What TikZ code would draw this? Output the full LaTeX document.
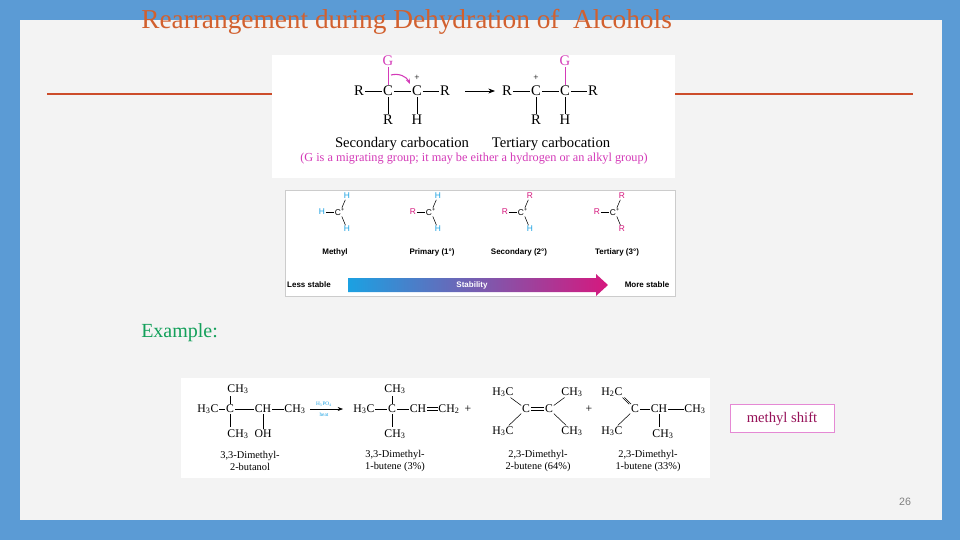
\documentclass[tikz,border=0pt]{standalone}
\usepackage{fontspec}
\setmainfont{Liberation Serif}
\setsansfont{Liberation Sans}
\usetikzlibrary{arrows.meta}
\definecolor{bgblue}{HTML}{5B9BD5}
\definecolor{panel}{HTML}{F3F3F3}
\definecolor{titlec}{HTML}{D2602E}
\definecolor{rulec}{HTML}{CC4C2A}
\definecolor{mag}{HTML}{D43AB8}
\definecolor{cy}{HTML}{1BA1E2}
\definecolor{mg}{HTML}{D6187E}
\definecolor{greenc}{HTML}{13A05A}
\newcommand{\chsub}[1]{\textsubscript{#1}}
\begin{document}
\begin{tikzpicture}[x=0.75pt,y=-0.75pt,
  ch/.style={inner sep=0.5pt,font=\fontsize{11}{12}\selectfont},
  chs/.style={inner sep=0.5pt,font=\fontsize{8.8}{9}\selectfont},
  st/.style={inner sep=0.5pt,font=\sffamily\fontsize{6.3}{7}\selectfont},
  lbl/.style={inner sep=0pt,font=\sffamily\bfseries\fontsize{6}{7}\selectfont},
  bd/.style={line width=0.6pt},
  sbd/.style={line width=0.4pt}]
\useasboundingbox (0,0) rectangle (960,540);
\fill[bgblue] (0,0) rectangle (960,540);
\fill[panel] (20,20) rectangle (942,520);
\node[anchor=west,text=titlec,font=\fontsize{20.5}{22}\selectfont,inner sep=0] (title) at (141,22) {Rearrangement during Dehydration of \ Alcohols};
\draw[rulec,line width=2pt] (47,94) -- (272,94);
\draw[rulec,line width=2pt] (675,94) -- (913,94);
% top image
\fill[white] (272,55) rectangle (675,178);
\node[ch] (r1) at (359,91) {R};
\node[ch] (c1) at (388,91) {C};
\node[ch] (c2) at (417,91) {C};
\node[ch] (r2) at (445,91) {R};
\node[ch,text=mag] (g1) at (388,61) {G};
\node[ch] (p1) at (417,78) {\fontsize{7}{7}\selectfont +};
\node[ch] (r3) at (388,120) {R};
\node[ch] (h1) at (417,120) {H};
\draw[bd] (r1)--(c1); \draw[bd] (c1)--(c2); \draw[bd] (c2)--(r2);
\draw[bd] (c1)--(r3); \draw[bd] (c2)--(h1); \draw[bd,mag] (g1)--(c1);
\draw[mag,line width=0.8pt,-{Stealth[length=4pt]}] (391,75) to[bend left=40] (410,84);
\coordinate (a1) at (465,91); \coordinate (a2) at (495,91);
\draw[bd,-{Stealth[length=5pt]}] (a1)--(a2);
\node[ch] (r4) at (507,91) {R};
\node[ch] (c3) at (536,91) {C};
\node[ch] (c4) at (565,91) {C};
\node[ch] (r5) at (593,91) {R};
\node[ch] (p2) at (536,78) {\fontsize{7}{7}\selectfont +};
\node[ch,text=mag] (g2) at (565,61) {G};
\node[ch] (r6) at (536,120) {R};
\node[ch] (h2) at (565,120) {H};
\draw[bd] (r4)--(c3); \draw[bd] (c3)--(c4); \draw[bd] (c4)--(r5);
\draw[bd] (c3)--(r6); \draw[bd] (c4)--(h2); \draw[bd,mag] (g2)--(c4);
\node[ch] (l1) at (402,144) {Secondary carbocation};
\node[ch] (l2) at (551,144) {Tertiary carbocation};
\node[ch,text=mag,font=\fontsize{9.2}{10}\selectfont] (l3) at (474,159) {(G is a migrating group; it may be either a hydrogen or an alkyl group)};
% stability box
\draw[white!80!black,fill=white,line width=0.5pt] (285,190) rectangle (675,296);
\foreach \n/\x/\L/\U/\D/\lc/\uc/\dc/\name/\lx in {m/340/H/H/H/cy/cy/cy/Methyl/335, p/431/R/H/H/mg/cy/cy/Primary (1°)/432, s/523/R/R/H/mg/mg/cy/Secondary (2°)/519, t/615/R/R/R/mg/mg/mg/Tertiary (3°)/617}{
  \node[st] (\n c) at (\x,212) {C\textsuperscript{+}};
  \node[st,text=\lc] (\n l) at (\x-18,212) {\L};
  \node[st,text=\uc] (\n u) at (\x+7,196) {\U};
  \node[st,text=\dc] (\n d) at (\x+7,229) {\D};
  \draw[sbd] (\n l)--(\n c); \draw[sbd] (\n u)--(\n c); \draw[sbd] (\n d)--(\n c);
  \node[lbl] (\n n) at (\lx,252) {\name};
}
\shade[left color=cy,right color=mg] (348,278) -- (596,278) -- (596,274) -- (608,285) -- (596,296) -- (596,292) -- (348,292) -- cycle;
\node[lbl,text=white] (stab) at (472,285) {Stability};
\node[lbl] (less) at (309,285) {Less stable};
\node[lbl] (more) at (647,285) {More stable};
% example
\node[anchor=west,text=greenc,font=\fontsize{15}{16}\selectfont,inner sep=0] (ex) at (141,333) {Example:};
\fill[white] (181,378) rectangle (710,478);
% reactant
\node[chs] (b1) at (208,409) {H\chsub{3}C};
\node[chs] (b2) at (230,409) {C};
\node[chs] (b3) at (263,409) {CH};
\node[chs] (b4) at (295,409) {CH\chsub{3}};
\node[chs] (b5) at (238,389) {CH\chsub{3}};
\node[chs] (b6) at (238,434) {CH\chsub{3}};
\node[chs] (b7) at (263,434) {OH};
\draw[sbd] (b1)--(b2); \draw[sbd] (b2)--(b3); \draw[sbd] (b3)--(b4);
\draw[sbd] (b2)--(230,396); \draw[sbd] (b2)--(230,427); \draw[sbd] (b3)--(b7);
\coordinate (e1) at (310,409); \coordinate (e2) at (343,409);
\draw[sbd,-{Stealth[length=4pt]}] (e1)--(e2);
\node[inner sep=0,text=cy,font=\fontsize{4}{4}\selectfont] (h3po4) at (324,404) {H\chsub{3}PO\chsub{4}};
\node[inner sep=0,text=cy,font=\fontsize{4}{4}\selectfont] (heat) at (324,415) {heat};
% product 1
\node[chs] (q1) at (364,409) {H\chsub{3}C};
\node[chs] (q2) at (392,409) {C};
\node[chs] (q3) at (418,409) {CH};
\node[chs] (q4) at (449,409) {CH\chsub{2}};
\node[chs] (q5) at (395,389) {CH\chsub{3}};
\node[chs] (q6) at (395,434) {CH\chsub{3}};
\draw[sbd] (q1)--(q2); \draw[sbd] (q2)--(q3);
\draw[sbd] ([yshift=-1pt]q3.east)--([yshift=-1pt]q4.west);
\draw[sbd] ([yshift=1pt]q3.east)--([yshift=1pt]q4.west);
\draw[sbd] (q2)--(392,396); \draw[sbd] (q2)--(392,427);
\node[chs] (plus1) at (468,409) {+};
% product 2
\node[chs] (u1) at (503,392) {H\chsub{3}C};
\node[chs] (u2) at (572,392) {CH\chsub{3}};
\node[chs] (u3) at (526,409) {C};
\node[chs] (u4) at (549,409) {C};
\node[chs] (u5) at (503,431) {H\chsub{3}C};
\node[chs] (u6) at (572,431) {CH\chsub{3}};
\draw[sbd] (u1)--(u3); \draw[sbd] (u2)--(u4); \draw[sbd] (u5)--(u3); \draw[sbd] (u6)--(u4);
\draw[sbd] ([yshift=-1pt]u3.east)--([yshift=-1pt]u4.west);
\draw[sbd] ([yshift=1pt]u3.east)--([yshift=1pt]u4.west);
\node[chs] (plus2) at (589,409) {+};
% product 3
\node[chs] (v1) at (612,392) {H\chsub{2}C};
\node[chs] (v2) at (612,431) {H\chsub{3}C};
\node[chs] (v3) at (635,409) {C};
\node[chs] (v4) at (659,409) {CH};
\node[chs] (v5) at (695,409) {CH\chsub{3}};
\node[chs] (v6) at (663,434) {CH\chsub{3}};
\draw[sbd] (v2)--(v3); \draw[sbd] (v3)--(v4); \draw[sbd] (v4)--(v5); \draw[sbd] (v4)--(659,427);
\draw[sbd] ([xshift=-0.7pt]v1.south east)--([xshift=-0.7pt]v3.north west);
\draw[sbd] ([xshift=0.7pt]v1.south east)--([xshift=0.7pt]v3.north west);
% names
\foreach \nm/\x/\a/\b in {n1/250/{3,3-Dimethyl-}/{2-butanol}, n2/395/{3,3-Dimethyl-}/{1-butene (3\%)}, n3/538/{2,3-Dimethyl-}/{2-butene (64\%)}, n4/648/{2,3-Dimethyl-}/{1-butene (33\%)}}{
  \node[chs,align=center,font=\fontsize{7.8}{8.5}\selectfont] (\nm) at (\x,461) {\a\\\b};
}
\node[draw=mag!60,fill=white,line width=0.6pt,minimum width=78pt,minimum height=21pt,font=\fontsize{11}{12}\selectfont,text=mg!70!black] (ms) at (782,418.5) {methyl shift};
\node[font=\sffamily\fontsize{8}{9}\selectfont,text=gray] (pg) at (905,502) {26};
\end{tikzpicture}
\end{document}
